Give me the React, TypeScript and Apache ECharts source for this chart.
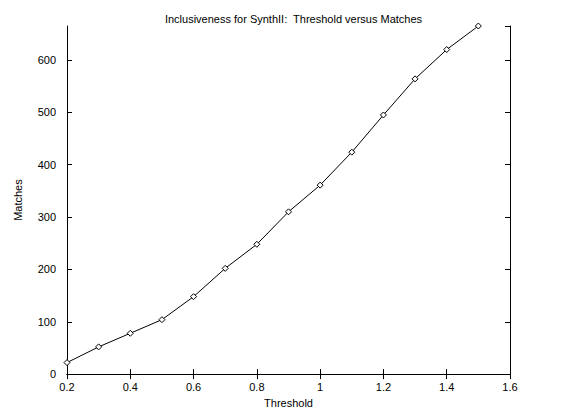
import React, { useEffect, useRef } from "react";
import * as echarts from "echarts";

const thresholds = [0.2, 0.3, 0.4, 0.5, 0.6, 0.7, 0.8, 0.9, 1.0, 1.1, 1.2, 1.3, 1.4, 1.5];
const matches = [22, 52, 78, 104, 148, 202, 248, 310, 361, 424, 495, 564, 620, 665];
const titleText = "Inclusiveness for SynthII:  Threshold versus Matches";
const xName = "Threshold";
const yName = "Matches";

const FONT = "'Liberation Sans', Arial, Helvetica, sans-serif";

export default function App() {
  const ref = useRef<HTMLDivElement>(null);
  useEffect(() => {
    if (!ref.current) return;
    const chart = echarts.init(ref.current, undefined, { renderer: "svg" });
    const data = thresholds.map((t, i) => [t, matches[i]]);
    const lbl = { color: "#000", fontFamily: FONT, fontSize: 11 };
    const axisLine = { show: true, lineStyle: { color: "#000", width: 1 } };
    const tick = { show: true, inside: true, length: 5, lineStyle: { color: "#000", width: 1 } };
    const xFmt = (v: number) => String(+v.toFixed(1));
    const yFmt = (v: number) => (Math.round(v) % 100 === 0 ? String(Math.round(v)) : "");
    chart.setOption({
      animation: false,
      backgroundColor: "#fff",
      title: {
        text: titleText,
        left: 288.5,
        textAlign: "center",
        top: 8,
        textStyle: { color: "#000", fontFamily: FONT, fontSize: 11, fontWeight: "normal" },
      },
      grid: { left: 67, right: 68, top: 26, bottom: 35, containLabel: false },
      xAxis: [
        {
          type: "value",
          min: 0.2,
          max: 1.6,
          interval: 0.2,
          name: xName,
          nameLocation: "middle",
          nameGap: 18,
          nameTextStyle: lbl,
          axisLine,
          axisTick: tick,
          axisLabel: { ...lbl, margin: 7, formatter: xFmt },
          splitLine: { show: false },
        },
        {
          type: "value",
          position: "top",
          min: 0.2,
          max: 1.6,
          interval: 0.2,
          axisLine,
          axisTick: tick,
          axisLabel: { show: false },
          splitLine: { show: false },
        },
      ],
      yAxis: [
        {
          type: "value",
          min: 0,
          max: 665,
          interval: 100,
          name: yName,
          nameLocation: "middle",
          nameGap: 44,
          nameRotate: 90,
          nameTextStyle: lbl,
          axisLine,
          axisTick: tick,
          axisLabel: { ...lbl, margin: 11, formatter: yFmt, showMaxLabel: false },
          splitLine: { show: false },
        },
        {
          type: "value",
          position: "right",
          min: 0,
          max: 665,
          interval: 100,
          axisLine,
          axisTick: tick,
          axisLabel: { show: false },
          splitLine: { show: false },
        },
      ],
      series: [
        {
          type: "line",
          data,
          xAxisIndex: 0,
          yAxisIndex: 0,
          symbol: "diamond",
          symbolSize: 6,
          showAllSymbol: true,
          lineStyle: { color: "#000", width: 1 },
          itemStyle: { color: "#fff", borderColor: "#000", borderWidth: 1 },
        },
      ],
    });
    return () => chart.dispose();
  }, []);
  return <div ref={ref} style={{ width: 578, height: 413, position: "absolute", left: 0, top: 0 }} />;
}
